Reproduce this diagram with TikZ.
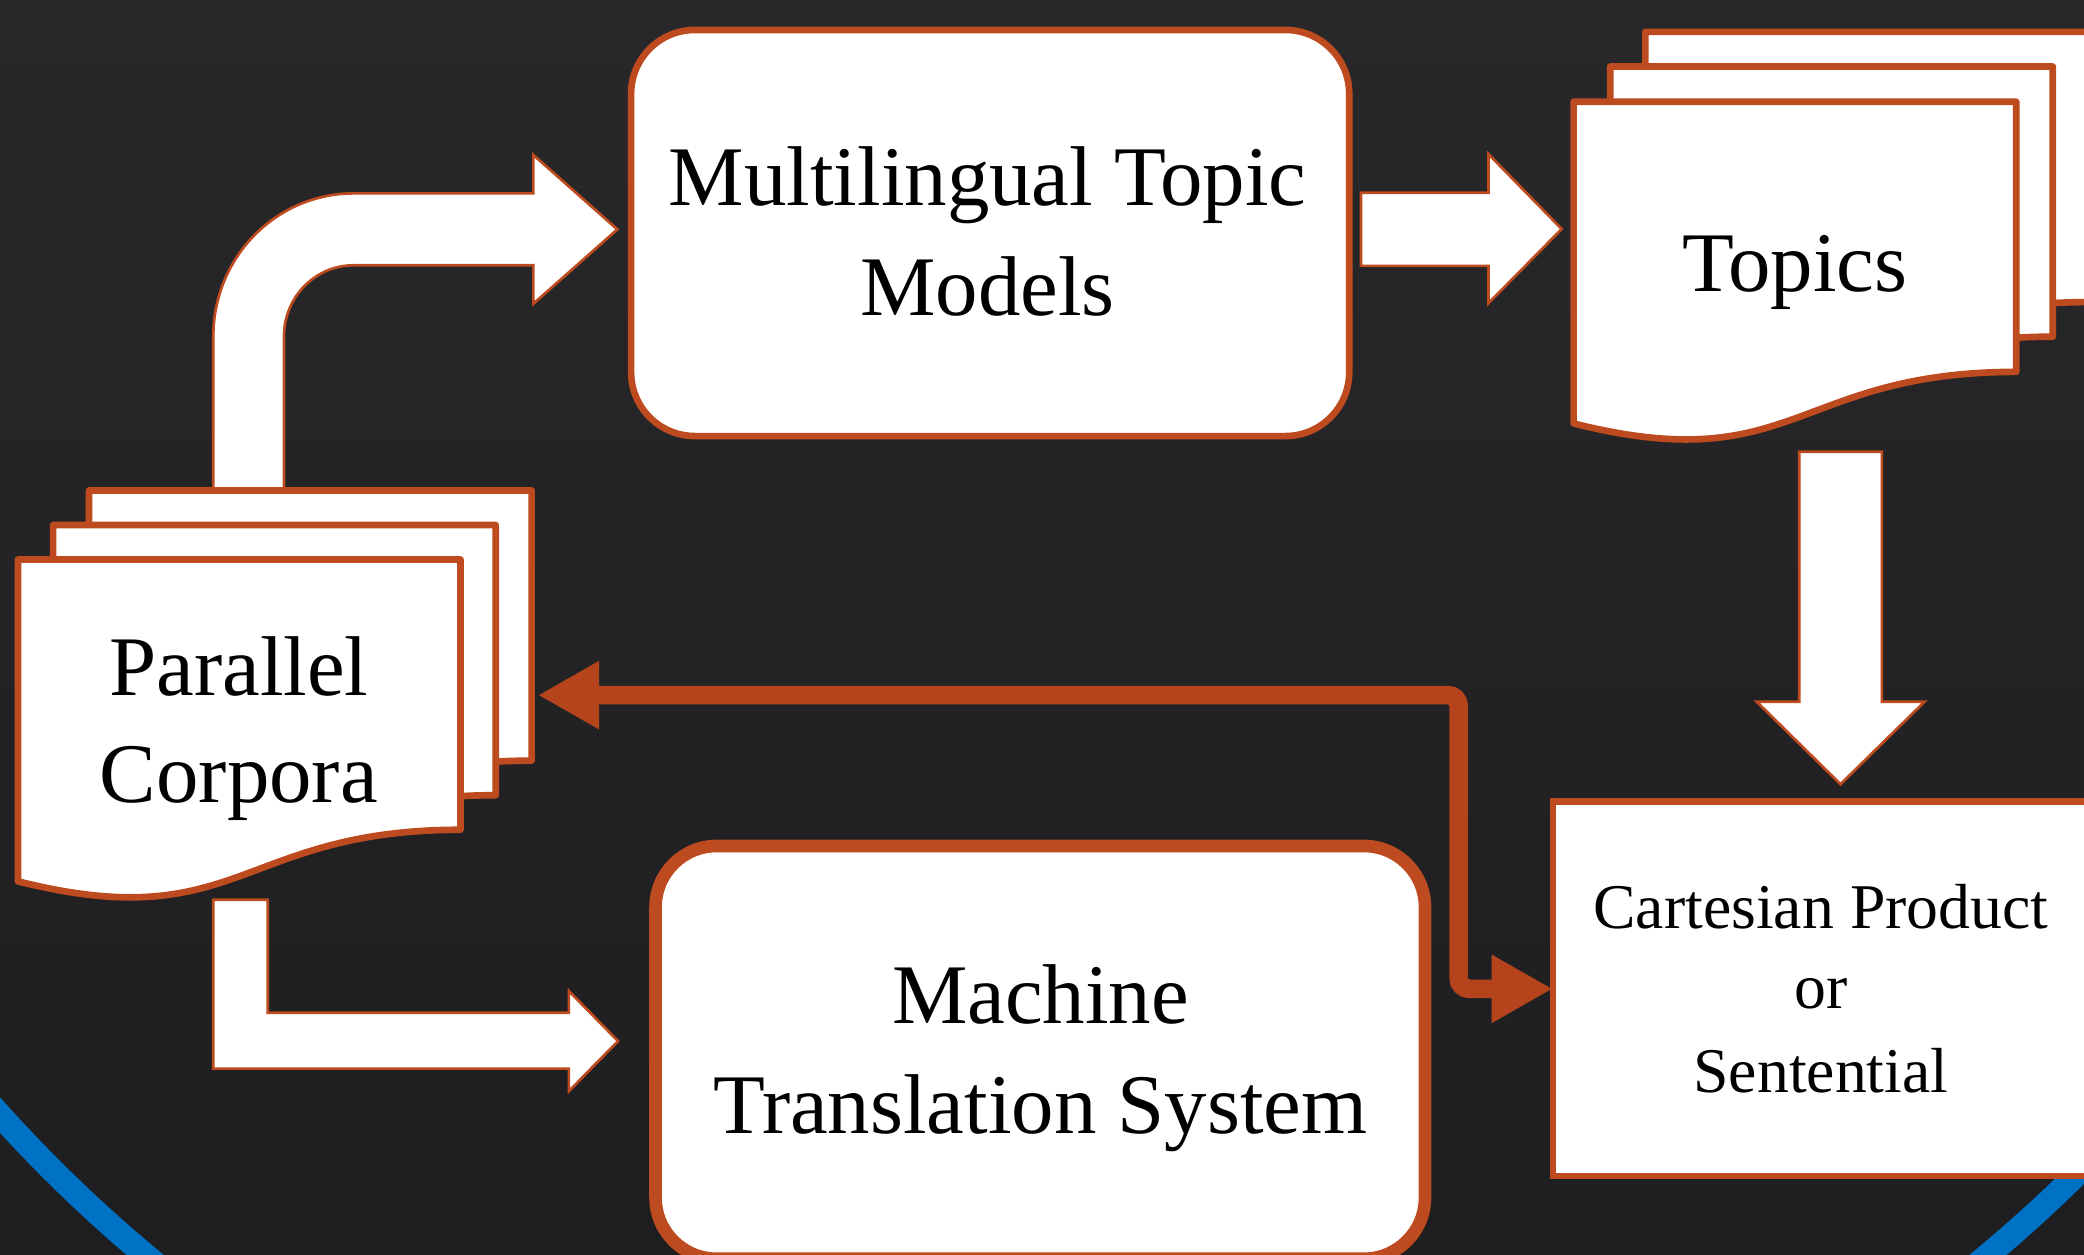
\documentclass[tikz,border=0pt]{standalone}
\usepackage{fontspec}
\setmainfont{Liberation Serif}
\usetikzlibrary{arrows.meta,calc}
\definecolor{bgtop}{RGB}{40,40,42}
\definecolor{bgbot}{RGB}{30,30,32}
\definecolor{rust}{RGB}{190,74,31}
\definecolor{rustdk}{RGB}{181,68,29}
\definecolor{ringblue}{RGB}{0,114,198}
\tikzset{
  docstyle/.style={fill=white, draw=rust, line width=0.05cm, line join=round},
  blockarrow/.style={fill=white, draw=rust, line width=0.02cm, line join=miter},
  roundbox/.style={fill=white, draw=rust, line width=0.05cm, rounded corners=0.48cm, inner sep=0, outer sep=0},
  sqbox/.style={fill=white, draw=rust, line width=0.05cm, inner sep=0, outer sep=0},
  hit/.style={inner sep=0, outer sep=0, draw=none},
  lbl/.style={anchor=base, font=\fontsize{18.15pt}{22pt}\selectfont, text=black, inner sep=0},
  lblsmall/.style={anchor=base, font=\fontsize{13.63pt}{16pt}\selectfont, text=black, inner sep=0},
  fb/.style={draw=rustdk, line width=0.14cm, rounded corners=0.08cm,
    {Triangle[length=0.46cm,width=0.48cm]}-{Triangle[length=0.46cm,width=0.48cm]}}
}
\newcommand\mydoc[2]{\begin{scope}[shift={(#1,#2)}]
  \path[docstyle] (0,0) -- (333,0) -- (333,203.3) .. controls (166.5,203.3) and (166.5,283.9) .. (0,242.1) -- cycle;
\end{scope}}
\begin{document}
\begin{tikzpicture}[x=0.01cm,y=-0.01cm]
\useasboundingbox (0,0) rectangle (1568,944);
\clip (0,0) rectangle (1568,944);
\shade[top color=bgtop, bottom color=bgbot] (0,0) rectangle (1568,944);
% decorative ring
\draw[ringblue, line width=0.18cm] (802.5,115.3) circle[radius=10.80cm];

% curved block arrow behind the parallel corpora stack
\path[blockarrow] (160.5,420) -- (160.5,253) .. controls (160.5,193.6) and (207.7,145.5) .. (266,145.5)
  -- (401.3,145.5) -- (401.3,116.6) -- (464.5,172.6) -- (401.3,228.5) -- (401.3,199.6) -- (266,199.6)
  .. controls (237.1,199.6) and (213.7,223.5) .. (213.7,253) -- (213.7,420) -- cycle;

% parallel corpora stack
\mydoc{67}{369}
\mydoc{40}{395}
\mydoc{13.5}{421}
\node[hit, anchor=north west, minimum width=3.375cm, minimum height=2.6cm] (pcstack) at (67,369) {};
\node[lbl] (pcA) at (179.7,523) {Parallel};
\node[lbl] (pcB) at (179.7,604) {Corpora};

% L-shaped block arrow to the machine translation system
\path[blockarrow] (160.5,677) -- (201.5,677) -- (201.5,762) -- (428,762) -- (428,745.6) -- (465,783.3)
  -- (428,821) -- (428,804) -- (160.5,804) -- cycle;

% topics stack
\mydoc{1238}{24}
\mydoc{1211.5}{50}
\mydoc{1184}{76.5}
\node[lbl] (topicsA) at (1350.5,219.5) {Topics};

% boxes
\node[roundbox, minimum width=5.40cm, minimum height=3.054cm] (mtm) at (745,175.3) {};
\node[lbl] (mtmA) at (743,154.3) {Multilingual Topic};
\node[lbl] (mtmB) at (743,237) {Models};

\node[roundbox, line width=0.095cm, rounded corners=0.46cm, minimum width=5.786cm, minimum height=3.104cm] (mt) at (782.7,791.8) {};
\node[lbl] (mtA) at (782.8,769.9) {Machine};
\node[lbl] (mtB) at (782.8,852.7) {Translation System};

\node[sqbox, minimum width=4.03cm, minimum height=2.816cm] (cart) at (1370,744) {};
\node[lblsmall] (cartA) at (1370,698.3) {Cartesian Product};
\node[lblsmall] (cartB) at (1370,759) {or};
\node[lblsmall] (cartC) at (1370,821.8) {Sentential};

% straight block arrows
\path[blockarrow] (1024,145) -- (1120,145) -- (1120,116) -- (1175,172.3) -- (1120,228) -- (1120,200) -- (1024,200) -- cycle;
\path[blockarrow] (1353.7,339.9) -- (1415.9,339.9) -- (1415.9,528) -- (1448,528) -- (1384.8,590)
  -- (1321.8,528) -- (1353.7,528) -- cycle;

% feedback connector
\coordinate (bend) at (1097.5,523);
\draw[fb] (cart.west) -| (bend) -- (pcstack.east |- bend);
\end{tikzpicture}
\end{document}
